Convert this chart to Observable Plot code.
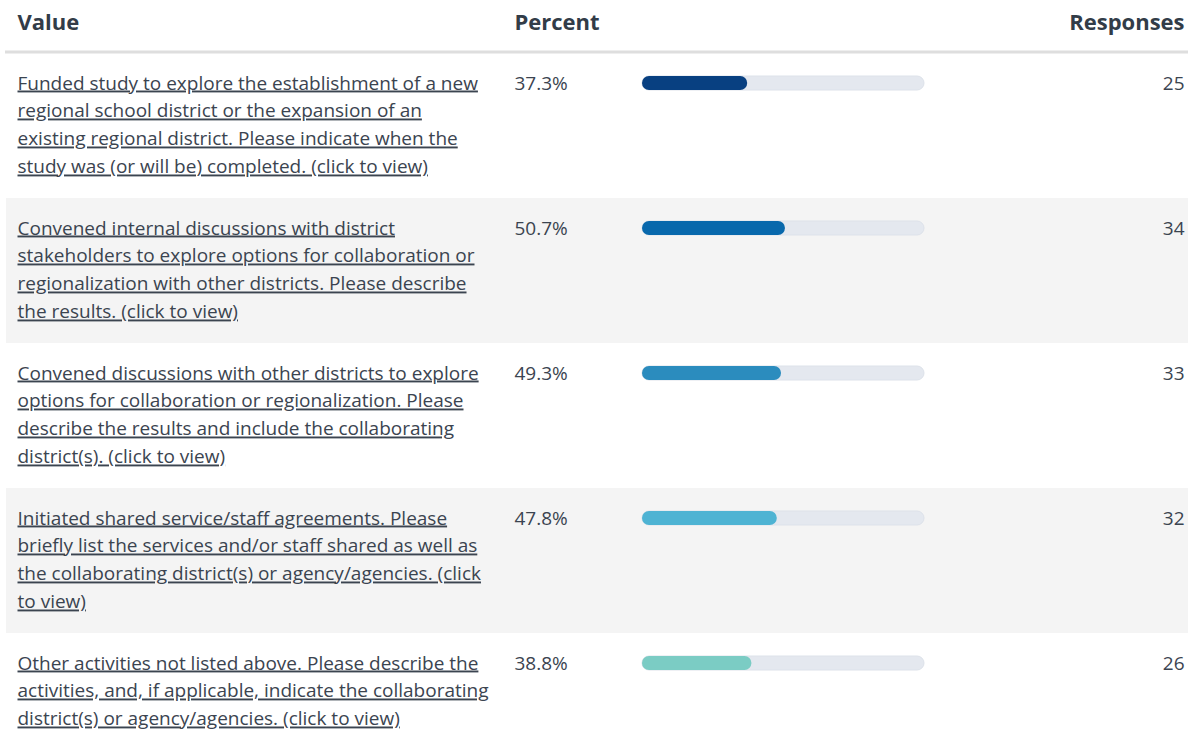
<!DOCTYPE html>
<html><head><meta charset="utf-8">
<script src="https://cdn.jsdelivr.net/npm/d3@7"></script>
<script src="https://cdn.jsdelivr.net/npm/@observablehq/plot@0.6"></script>
<style>
body{margin:0;background:#fff;}
g[aria-description="labels"] text{ text-decoration: underline; }
</style></head>
<body><div id="chart"></div>
<script>
const labels = [
  "Funded study to explore the establishment of a new\nregional school district or the expansion of an\nexisting regional district. Please indicate when the\nstudy was (or will be) completed. (click to view)",
  "Convened internal discussions with district\nstakeholders to explore options for collaboration or\nregionalization with other districts. Please describe\nthe results. (click to view)",
  "Convened discussions with other districts to explore\noptions for collaboration or regionalization. Please\ndescribe the results and include the collaborating\ndistrict(s). (click to view)",
  "Initiated shared service/staff agreements. Please\nbriefly list the services and/or staff shared as well as\nthe collaborating district(s) or agency/agencies. (click\nto view)",
  "Other activities not listed above. Please describe the\nactivities, and, if applicable, indicate the collaborating\ndistrict(s) or agency/agencies. (click to view)"
];
const percents = [37.3, 50.7, 49.3, 47.8, 38.8];
const responses = [25, 34, 33, 32, 26];
const barColors = ["#084081", "#0868ac", "#2b8cbe", "#4eb3d3", "#7bccc4"];
const headers = ["Value", "Percent", "Responses"];

const rows = labels.map((label, i) => ({label, percent: percents[i], responses: responses[i], color: barColors[i], bg: i % 2 ? "#f4f4f4" : "#ffffff"}));

const FONT = "'Open Sans'";
const fs = 19, lh = 28 / fs;
const bandH = 145, topY = 53;
const textDy = 36 - 0.71 * lh * fs - bandH / 2;
const ink = "#3b4450";
const headInk = "#323c48";

const chart = Plot.plot({
  width: 1188, height: 734,
  marginTop: topY, marginLeft: 0, marginRight: 0, marginBottom: 0,
  style: {fontFamily: FONT, background: "#fff"},
  x: {domain: [0, 100], range: [642, 924], axis: null},
  y: {domain: labels, range: [topY, topY + bandH * labels.length], axis: null, padding: 0},
  color: {type: "identity"},
  marks: [
    Plot.cell(rows, {y: "label", fill: "bg", insetLeft: 6}),
    Plot.frame({anchor: "top", stroke: "#dedede", strokeWidth: 3, dy: -1.5, insetLeft: 6}),
    Plot.text([headers[0]], {frameAnchor: "top-left", text: d => d, dx: 17, dy: -23.5, lineAnchor: "bottom", fontSize: 22, fontWeight: 700, fill: headInk}),
    Plot.text([headers[1]], {frameAnchor: "top-left", text: d => d, dx: 514, dy: -23.5, lineAnchor: "bottom", fontSize: 22, fontWeight: 700, fill: headInk}),
    Plot.text([headers[2]], {frameAnchor: "top-right", text: d => d, dx: -4, dy: -23.5, lineAnchor: "bottom", textAnchor: "end", fontSize: 22, fontWeight: 700, fill: headInk}),
    Plot.text(rows, {y: "label", text: "label", frameAnchor: "left", dx: 17, dy: textDy, lineAnchor: "top", lineHeight: lh, fontSize: fs, fill: ink, ariaDescription: "labels"}),
    Plot.text(rows, {y: "label", text: d => d.percent.toFixed(1) + "%", frameAnchor: "left", dx: 514, dy: textDy, lineAnchor: "top", lineHeight: lh, fontSize: fs, fill: ink}),
    Plot.text(rows, {y: "label", text: "responses", frameAnchor: "right", textAnchor: "end", dx: -4, dy: textDy, lineAnchor: "top", lineHeight: lh, fontSize: fs, fill: ink}),
    Plot.barX(rows, {y: "label", x1: 0, x2: 100, fill: "#e4e8ef", stroke: "#dde2ea", strokeWidth: 1, insetTop: 23, insetBottom: bandH - 37, rx: 7}),
    Plot.barX(rows, {y: "label", x1: 0, x2: "percent", fill: "color", insetTop: 23, insetBottom: bandH - 37, rx: 7})
  ]
});
document.getElementById("chart").append(chart);
</script></body></html>
